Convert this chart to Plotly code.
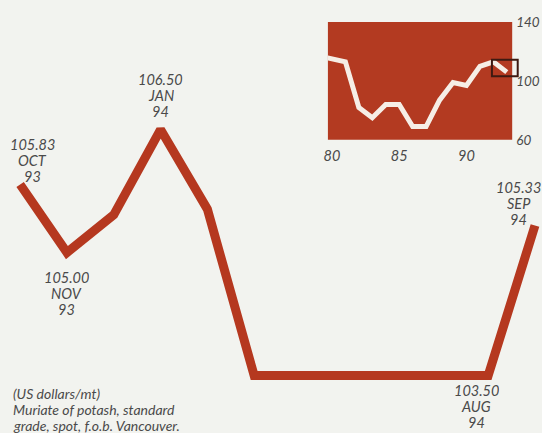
import plotly.graph_objects as go

# Monthly spot price, Oct 1993 - Sep 1994 (US$/mt)
month_names = ["OCT", "NOV", "DEC", "JAN", "FEB", "MAR",
               "APR", "MAY", "JUN", "JUL", "AUG", "SEP"]
month_years = ["93", "93", "93", "94", "94", "94",
               "94", "94", "94", "94", "94", "94"]
prices = [105.83, 105.00, 105.46, 106.50, 105.53, 103.50,
          103.50, 103.50, 103.50, 103.50, 103.50, 105.33]

# Long-run annual history for the inset
years = [79, 80, 81, 82, 83, 84, 85, 86, 87, 88, 89, 90, 91, 92, 93]
history = [117, 115, 113, 82, 75, 84, 84, 69, 69, 87, 99, 97, 110, 113, 106]

note_lines = ["(US dollars/mt)", "Muriate of potash, standard", "grade, spot, f.o.b. Vancouver."]

RED = "#b5381f"
BG = "#f2f3ef"
TEXT = "#4a4a4a"
FONT = "Lato"
LINE_H = 16

# Labelled months: (index, side, gap from point to nearest line in px, horizontal nudge in px)
callouts = [(0, "above", 8, 12), (1, "below", 25, 0), (3, "above", 18, 0),
            (10, "below", 15, -12), (11, "above", 6, -16)]

idx = list(range(len(prices)))

fig = go.Figure()
fig.add_trace(go.Scatter(
    x=idx, y=prices, mode="lines",
    line=dict(color=RED, width=9), xaxis="x", yaxis="y",
    hoverinfo="skip", showlegend=False,
))

fig.add_trace(go.Scatter(
    x=years, y=history, mode="lines",
    line=dict(color="#f6eee6", width=5), xaxis="x2", yaxis="y2",
    hoverinfo="skip", showlegend=False,
))

label_font = dict(family=FONT, size=14.5, color=TEXT, style="italic")
note_font = dict(family=FONT, size=14, color=TEXT, style="italic")

annotations = []
for i, side, gap, dx in callouts:
    lines = [f"{prices[i]:.2f}", month_names[i], month_years[i]]
    n = len(lines)
    for k, t in enumerate(lines):
        if side == "above":
            dy = gap + (n - 1 - k) * LINE_H
        else:
            dy = -(gap + k * LINE_H)
        annotations.append(dict(
            x=i, y=prices[i], xref="x", yref="y", text=t, showarrow=False,
            xanchor="center", yanchor="middle", yshift=dy, xshift=dx,
            height=LINE_H - 1, borderpad=0, font=label_font,
        ))

for k, t in enumerate(note_lines):
    annotations.append(dict(
        x=12 / 542, y=1 - (393 + k * LINE_H) / 433, xref="paper", yref="paper",
        xanchor="left", yanchor="middle", text=t, showarrow=False,
        height=LINE_H - 1, borderpad=0, font=note_font,
    ))

xtick_font = dict(family=FONT, size=14.5, color=TEXT, style="italic")
ytick_font = dict(family=FONT, size=13.5, color=TEXT, style="italic")

fig.update_layout(
    width=542, height=433,
    margin=dict(l=0, r=0, t=0, b=0, autoexpand=False),
    paper_bgcolor=BG, plot_bgcolor="rgba(0,0,0,0)",
    xaxis=dict(domain=[0, 1], range=[-0.43, 11.15], visible=False, fixedrange=True,
               automargin=False),
    yaxis=dict(domain=[0, 1], range=[102.80, 108.08], visible=False, fixedrange=True,
               automargin=False),
    xaxis2=dict(domain=[0.605, 0.945], anchor="y2", range=[79.7, 93.4],
                tickvals=[80, 85, 90], ticktext=["80", "85", "90"],
                showgrid=False, zeroline=False, showline=False, ticks="",
                tickfont=xtick_font, ticklabelstandoff=6, automargin=False),
    yaxis2=dict(domain=[0.677, 0.949], anchor="x2", side="right", range=[60, 140],
                tickvals=[60, 100, 140], ticktext=["60", "100", "140"],
                showgrid=False, zeroline=False, showline=False, ticks="",
                tickfont=ytick_font, ticklabelstandoff=3, automargin=False),
    shapes=[
        dict(type="rect", xref="x2 domain", yref="y2 domain", x0=0, x1=1, y0=0, y1=1,
             fillcolor="#b33a21", line=dict(width=0), layer="below"),
        dict(type="rect", xref="x2 domain", yref="y2 domain", x0=0.89, x1=1.03, y0=0.54, y1=0.68,
             line=dict(color="#3e1a12", width=2), layer="above"),
    ],
    annotations=annotations,
)

fig.write_html("out.html")
